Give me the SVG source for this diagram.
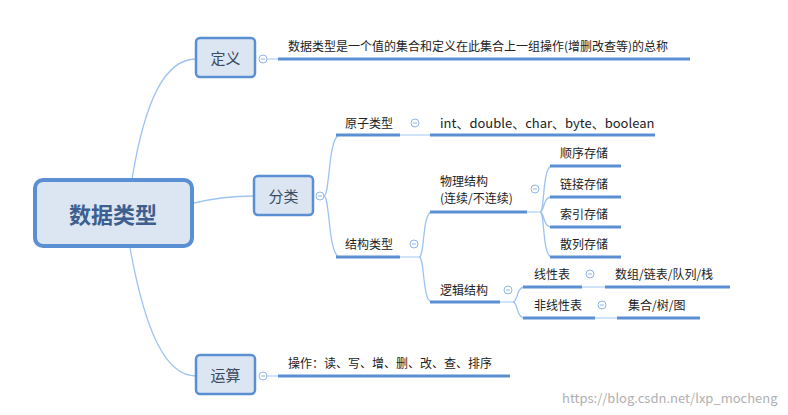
<svg xmlns="http://www.w3.org/2000/svg" width="788" height="415" viewBox="0 0 788 415">
<style>
text{font-family:"Microsoft YaHei","Noto Sans CJK SC",sans-serif;fill:#222;font-size:12px}
.box{fill:#dce6f2;stroke:#5b8fd4;stroke-width:2.5}
.bt{font-size:15px;fill:#3a4a60;text-anchor:middle}
.ul{stroke:#5b8fd4;stroke-width:3;fill:none}
.c{stroke:#9dc3f0;stroke-width:1.3;fill:none}
.t{stroke:#b8d4f4;stroke-width:1.3}
.tg circle{fill:#fff;stroke:#8fb4e8;stroke-width:1}
.tg line{stroke:#8fb4e8;stroke-width:1}
</style>
<rect width="788" height="415" fill="#fff"/>
<g id="connectors">
<path class="c" d="M132,179 C145,100 165,59 196,59"/>
<path class="c" d="M130,248 C145,330 165,376 196,376"/>
<path class="c" d="M194,203 C215,198 230,196 253,196"/>
<line class="t" x1="267" y1="59" x2="278" y2="59"/>
<line class="t" x1="267" y1="376" x2="278" y2="376"/>
<path class="c" d="M324,196 C330,196 328,135 340,135 M324,196 C330,196 328,257 340,257"/>
<line class="t" x1="400" y1="135" x2="430" y2="135"/>
<line class="t" x1="400" y1="257" x2="421" y2="257"/>
<path class="c" d="M419,257 C425,257 422,212 432,212 M419,257 C425,257 422,302 432,302"/>
<line class="t" x1="527" y1="212" x2="540" y2="212"/>
<path class="c" d="M540,212 C545,212 542,166 552,166 M540,212 C545,212 542,197 552,197 M540,212 C545,212 542,227 552,227 M540,212 C545,212 542,257 552,257"/>
<line class="t" x1="500" y1="302" x2="515" y2="302"/>
<path class="c" d="M513,302 C518,302 516,287 525,287 M513,302 C518,302 516,318 525,318"/>
<line class="t" x1="582" y1="287" x2="605" y2="287"/>
<line class="t" x1="595" y1="318" x2="617" y2="318"/>
</g>
<g id="root"><rect x="35" y="180" width="157" height="66" rx="8" fill="#dce6f2" stroke="#5b8fd4" stroke-width="4"/>
<text x="113" y="223" font-size="22" font-weight="bold" fill="#3d5f8f" text-anchor="middle" style="fill:#3d5f8f;font-size:22px">数据类型</text></g>
<g id="n-dingyi"><rect class="box" x="196" y="38" width="59" height="39" rx="4"/><text class="bt" x="225.5" y="64">定义</text></g>
<g id="n-fenlei"><rect class="box" x="254" y="176" width="59" height="39" rx="4"/><text class="bt" x="283.5" y="202">分类</text></g>
<g id="n-yunsuan"><rect class="box" x="196" y="355" width="59" height="39" rx="4"/><text class="bt" x="225.5" y="381">运算</text></g>
<g class="tg">
<circle cx="263" cy="59" r="4"/><line x1="261" y1="59" x2="265" y2="59"/>
<circle cx="320" cy="196" r="4"/><line x1="318" y1="196" x2="322" y2="196"/>
<circle cx="263" cy="376" r="4"/><line x1="261" y1="376" x2="265" y2="376"/>
<circle cx="415" cy="123" r="4"/><line x1="413" y1="123" x2="417" y2="123"/>
<circle cx="414" cy="244" r="4"/><line x1="412" y1="244" x2="416" y2="244"/>
<circle cx="535" cy="189" r="4"/><line x1="533" y1="189" x2="537" y2="189"/>
<circle cx="508" cy="290" r="4"/><line x1="506" y1="290" x2="510" y2="290"/>
<circle cx="590" cy="274" r="4"/><line x1="588" y1="274" x2="592" y2="274"/>
<circle cx="602" cy="305" r="4"/><line x1="600" y1="305" x2="604" y2="305"/>
</g>
<g id="def"><line class="ul" x1="278" y1="59" x2="690" y2="59"/><text x="288" y="51">数据类型是一个值的集合和定义在此集合上一组操作(增删改查等)的总称</text></g>
<g id="op"><line class="ul" x1="278" y1="376" x2="510" y2="376"/><text x="288" y="368">操作：读、写、增、删、改、查、排序</text></g>
<g id="atom"><line class="ul" x1="336" y1="135" x2="400" y2="135"/><text x="345" y="128">原子类型</text></g>
<g id="atom-v"><line class="ul" x1="430" y1="135" x2="655" y2="135"/><text x="440" y="128" font-size="13" style="font-size:13px">int、double、char、byte、boolean</text></g>
<g id="struct"><line class="ul" x1="336" y1="257" x2="400" y2="257"/><text x="345" y="249">结构类型</text></g>
<g id="phys"><line class="ul" x1="430" y1="212" x2="527" y2="212"/><text x="440" y="186">物理结构</text><text x="440" y="203">(连续/不连续)</text></g>
<g id="s1"><line class="ul" x1="550" y1="166" x2="621" y2="166"/><text x="560" y="158">顺序存储</text></g>
<g id="s2"><line class="ul" x1="550" y1="197" x2="621" y2="197"/><text x="560" y="189">链接存储</text></g>
<g id="s3"><line class="ul" x1="550" y1="227" x2="621" y2="227"/><text x="560" y="219">索引存储</text></g>
<g id="s4"><line class="ul" x1="550" y1="257" x2="621" y2="257"/><text x="560" y="249">散列存储</text></g>
<g id="logic"><line class="ul" x1="430" y1="302" x2="500" y2="302"/><text x="440" y="295">逻辑结构</text></g>
<g id="lin"><line class="ul" x1="523" y1="287" x2="582" y2="287"/><text x="534" y="279">线性表</text></g>
<g id="lin-v"><line class="ul" x1="605" y1="287" x2="730" y2="287"/><text x="615" y="279">数组/链表/队列/栈</text></g>
<g id="nonlin"><line class="ul" x1="523" y1="318" x2="595" y2="318"/><text x="534" y="310">非线性表</text></g>
<g id="nonlin-v"><line class="ul" x1="617" y1="318" x2="700" y2="318"/><text x="628" y="310">集合/树/图</text></g>
<text x="562" y="403" style="fill:#b0b0b0;font-size:13px">https://blog.csdn.net/lxp_mocheng</text>
</svg>
